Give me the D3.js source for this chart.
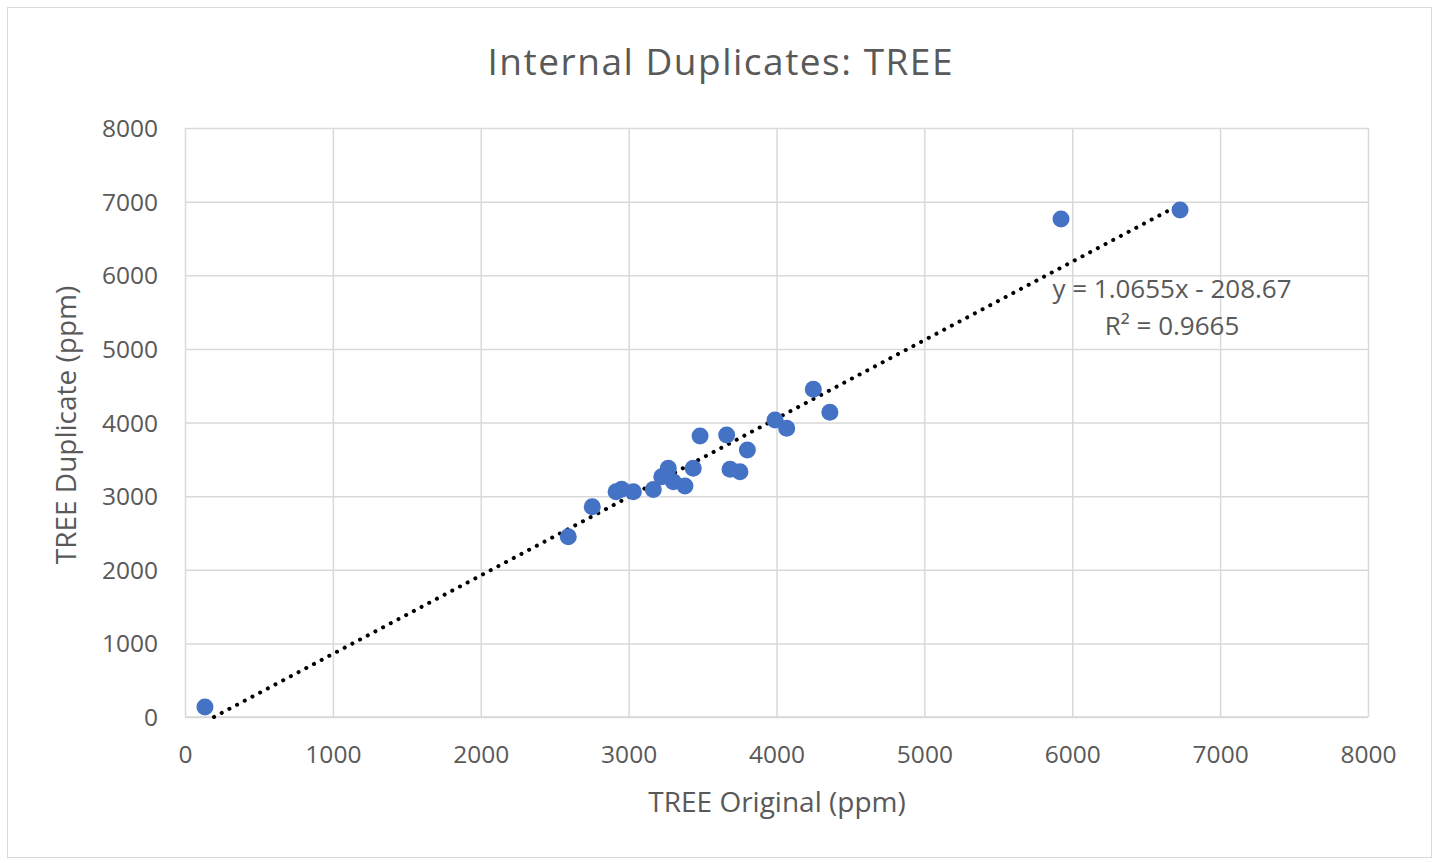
<!DOCTYPE html>
<html><head><meta charset="utf-8">
<script src="https://cdn.jsdelivr.net/npm/d3@7"></script>
<style>body{margin:0;background:#fff;} text{font-family:"Open Sans","Noto Sans",sans-serif;fill:#595959;}</style>
</head><body>
<svg id="c" width="1439" height="863"></svg>
<script>
const origX = [135,2592,2754,2915,2953,3032,3167,3224,3268,3302,3381,3437,3483,3663,3686,3753,3803,3990,4069,4249,4361,5924,6729];
const dupY  = [136,2449,2856,3060,3093,3060,3090,3264,3378,3196,3138,3378,3817,3830,3364,3332,3627,4034,3921,4451,4139,6764,6886];
const xTicks = [0,1000,2000,3000,4000,5000,6000,7000,8000];
const yTicks = [0,1000,2000,3000,4000,5000,6000,7000,8000];
const slope = 1.0655, intercept = -208.67, r2 = 0.9665;

const svg = d3.select("#c");
svg.append("rect").attr("x",7.5).attr("y",7.5).attr("width",1424).attr("height",850)
  .attr("fill","#fff").attr("stroke","#d9d9d9");

const L=185,R=1368,T=128,B=717;
const x = d3.scaleLinear().domain([0,8000]).range([L,R]);
const y = d3.scaleLinear().domain([0,8000]).range([B,T]);

const gx = svg.append("g").attr("transform",`translate(0,${B})`)
  .call(d3.axisBottom(x).tickValues(xTicks).tickSize(-(B-T)).tickPadding(37).tickFormat(d3.format("d")));
const gy = svg.append("g").attr("transform",`translate(${L},0)`)
  .call(d3.axisLeft(y).tickValues(yTicks).tickSize(-(R-L)).tickPadding(27).tickFormat(d3.format("d")));
[gx,gy].forEach(g=>{
  g.select(".domain").remove();
  g.selectAll("line").attr("stroke","#d9d9d9").attr("stroke-width",1.5);
  g.selectAll("text").style("font-size","24.5px").attr("fill","#595959");
});
gx.selectAll("text").attr("dy","0.35em");
gy.selectAll("text").attr("dy","0.35em");
svg.append("line").attr("x1",L).attr("x2",R).attr("y1",B).attr("y2",B).attr("stroke","#d9d9d9").attr("stroke-width",1.5);

const x0 = Math.max(d3.min(origX), -intercept/slope), x1 = d3.max(origX);
svg.append("line").attr("x1",x(x0)).attr("y1",y(slope*x0+intercept))
  .attr("x2",x(x1)).attr("y2",y(slope*x1+intercept))
  .attr("stroke","#000").attr("stroke-width",4).attr("stroke-linecap","round")
  .attr("stroke-dasharray","0.1 8.6");

svg.append("g").selectAll("circle").data(origX.map((v,i)=>[v,dupY[i]])).join("circle")
  .attr("cx",d=>x(d[0])).attr("cy",d=>y(d[1])).attr("r",8.5).attr("fill","#4472c4");

svg.append("text").attr("x",1172).attr("y",298).attr("text-anchor","middle").style("font-size","26px")
  .text(`y = ${slope}x - ${Math.abs(intercept)}`);
svg.append("text").attr("x",1172).attr("y",335).attr("text-anchor","middle").style("font-size","26px")
  .text(`R² = ${r2}`);

svg.append("text").attr("x",720).attr("y",75).attr("text-anchor","middle").style("font-size","37px")
  .attr("textLength",465).attr("lengthAdjust","spacing")
  .text("Internal Duplicates: TREE");
svg.append("text").attr("x",777).attr("y",812).attr("text-anchor","middle").style("font-size","28px")
  .text("TREE Original (ppm)");
svg.append("text").attr("transform","translate(76,425) rotate(-90)").attr("text-anchor","middle").style("font-size","28px")
  .text("TREE Duplicate (ppm)");
</script>
</body></html>
